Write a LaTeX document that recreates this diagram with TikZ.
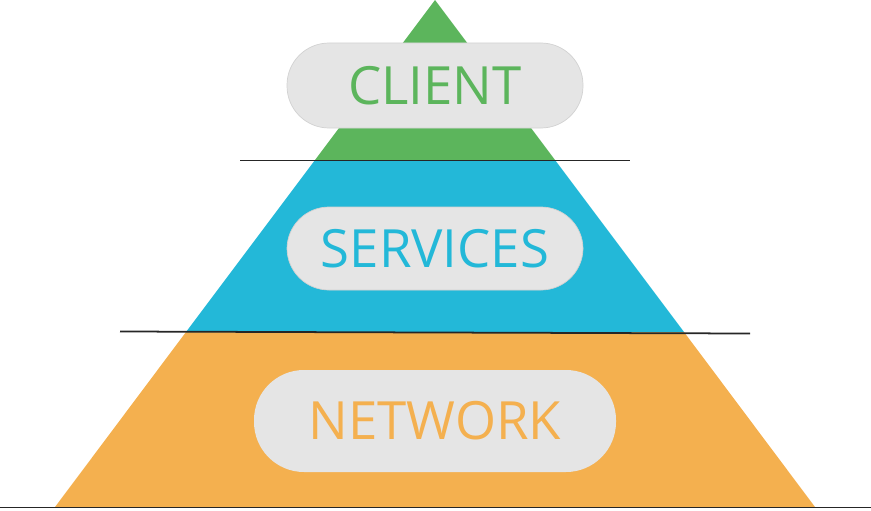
\documentclass[tikz,border=0pt]{standalone}
\usepackage{fontspec}
\setmainfont{Open Sans}
\usepackage{tikz}
\usetikzlibrary{calc}
\usepackage{xcolor}
\definecolor{lgreen}{HTML}{5CB55C}
\definecolor{lblue}{HTML}{23B8D8}
\definecolor{lorange}{HTML}{F4B04F}
\definecolor{pillgray}{HTML}{E5E5E5}
\definecolor{pillrim}{HTML}{D2D2D2}
\tikzset{
  layer/.style={draw=none},
  sepline/.style={line width=1pt, draw=black!85},
  pill/.style={fill=pillgray, draw=pillrim, line width=0.4pt, rounded corners=0.84cm,
    inner sep=0pt, font=\fontsize{30}{30}\selectfont},
}

\begin{document}
\begin{tikzpicture}[x=0.02cm, y=-0.02cm]
  \useasboundingbox (0,0) rectangle (871,510);
  % Schichten
  \fill[layer, lorange] (186,332) -- (684,332) -- (815,507) -- (55,507) -- cycle;
  \fill[layer, lblue] (315,160) -- (555,160) -- (684,332) -- (186,332) -- cycle;
  \fill[layer, lgreen] (435,0) -- (555,160) -- (315,160) -- cycle;
  % Trennlinien
  \draw[sepline] (240,160.5) -- (630,160.5);
  \draw[sepline] (120,331.5) -- (750,333.5);
  \draw[sepline] (0,507.5) -- (871,507.5);
  % Beschriftungen
  \node[pill, minimum width=296*0.02cm, minimum height=85*0.02cm, text=lgreen] (client) at (435,85.5) {CLIENT};
  \node[pill, minimum width=296*0.02cm, minimum height=83*0.02cm, text=lblue] (services) at (435,248.5) {SERVICES};
  \node[pill, draw=none, rounded corners=1cm, minimum width=362*0.02cm, minimum height=102*0.02cm, text=lorange] (network) at (435,421) {NETWORK};
\end{tikzpicture}
\end{document}
